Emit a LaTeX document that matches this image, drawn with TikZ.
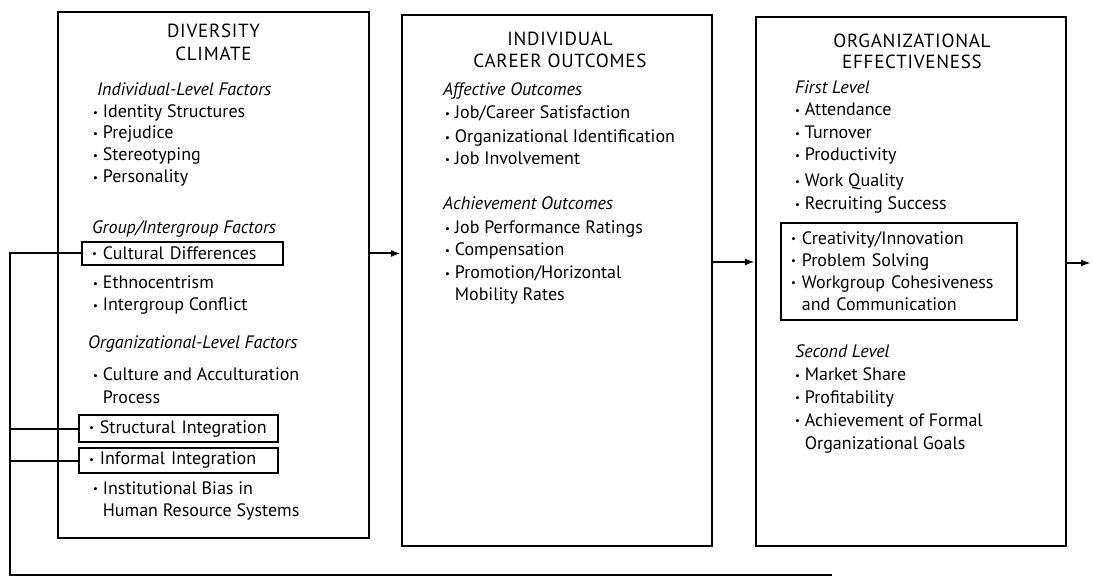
\documentclass[tikz,border=0pt]{standalone}
\usepackage{fontspec}
\setmainfont{PT Sans}
\usetikzlibrary{arrows.meta,positioning}
\newcommand{\itembullet}{\raisebox{0.2ex}{\scalebox{0.6}{\textbullet}}\ }
\tikzset{
  panel/.style = {draw, line width=2.2pt, inner sep=0pt},
  subpanel/.style = {draw, line width=2pt, inner xsep=10pt, inner ysep=0pt, align=left, font=\fontsize{18}{22}\selectfont},
  boxhead/.style = {font=\fontsize{19}{23}\selectfont\addfontfeature{LetterSpace=4}, anchor=base, inner sep=0pt},
  subhead/.style = {font=\fontsize{18}{22}\selectfont\itshape, anchor=base west, inner sep=0pt},
  item/.style = {font=\fontsize{18}{22}\selectfont, anchor=base west, inner sep=0pt},
  flow/.style = {-{Latex[length=10pt,width=7pt]}, line width=2pt},
  fbline/.style = {line width=2pt},
}
\begin{document}
\begin{tikzpicture}[x=1pt, y=-1pt]
\useasboundingbox (0,0) rectangle (1093,585);

% the three panels
\node[panel, minimum width=311pt, minimum height=526pt] (dc) at (213.5,275) {};
\node[panel, minimum width=310pt, minimum height=531pt] (ico) at (557,280.5) {};
\node[panel, minimum width=310pt, minimum height=529pt] (oe) at (911,281.5) {};

% Diversity climate
\node[boxhead] at (213.5,38) {DIVERSITY};
\node[boxhead] at (213.5,61) {CLIMATE};
\node[subhead] at (97,96) {Individual-Level Factors};
\foreach \y/\t in {118/Identity Structures, 139/Prejudice, 161/Stereotyping, 183/Personality}
  \node[item] at (93,\y) {\itembullet\t};
\node[subhead] at (92,234) {Group/Intergroup Factors};
\node[subpanel, text width=181pt, minimum height=23pt] (cd) at (182.5,253.5) {\itembullet Cultural Differences};
\node[item] at (93,289) {\itembullet Ethnocentrism};
\node[item] at (93,311) {\itembullet Intergroup Conflict};
\node[subhead] at (88,349) {Organizational-Level Factors};
\node[item] at (93,381) {\itembullet Culture and Acculturation};
\node[item] at (93,403) {\phantom{\itembullet}Process};
\node[subpanel, text width=179pt, minimum height=27pt] (si) at (178.5,428.5) {\itembullet Structural Integration};
\node[subpanel, text width=179pt, minimum height=25pt] (ii) at (178.5,460.5) {\itembullet Informal Integration};
\node[item] at (93,494) {\itembullet Institutional Bias in};
\node[item] at (93,516) {\phantom{\itembullet}Human Resource Systems};

% Individual career outcomes
\node[boxhead] at (560,46) {INDIVIDUAL};
\node[boxhead] at (560,68) {CAREER OUTCOMES};
\node[subhead] at (443,96) {Affective Outcomes};
\foreach \y/\t in {119/{Job/Career Satisfaction}, 143/Organizational Identification, 165/Job Involvement}
  \node[item] at (445,\y) {\itembullet\t};
\node[subhead] at (443,210) {Achievement Outcomes};
\foreach \y/\t in {234/Job Performance Ratings, 256/Compensation, 279/{Promotion/Horizontal}}
  \node[item] at (445,\y) {\itembullet\t};
\node[item] at (445,301) {\phantom{\itembullet}Mobility Rates};

% Organizational effectiveness
\node[boxhead] at (912,48) {ORGANIZATIONAL};
\node[boxhead] at (912,69) {EFFECTIVENESS};
\node[subhead] at (795,94) {First Level};
\foreach \y/\t in {116/Attendance, 139/Turnover, 161/Productivity, 187/Work Quality, 210/Recruiting Success}
  \node[item] at (795,\y) {\itembullet\t};
\node[subpanel, text width=216pt, minimum height=97pt] (ci) at (899,271.5)
  {\itembullet Creativity/Innovation\\ \itembullet Problem Solving\\ \itembullet Workgroup Cohesiveness\\ \phantom{\itembullet}and Communication};
\node[subhead] at (795,358) {Second Level};
\foreach \y/\t in {381/Market Share, 403/Profitability, 426/Achievement of Formal}
  \node[item] at (795,\y) {\itembullet\t};
\node[item] at (795,449) {\phantom{\itembullet}Organizational Goals};

% flow between panels
\coordinate (mid2) at (735,262);
\coordinate (out) at (1091,263);
\draw[flow] (dc.east |- cd.east) -- (ico.west |- cd.east);
\draw[flow] (ico.east |- mid2) -- (oe.west |- mid2);
\draw[flow] (oe.east |- out) -- (out);

% feedback loop
\coordinate (fbl) at (10,575);
\coordinate (fbr) at (832,575);
\draw[fbline] (cd.west) -- (cd.west -| fbl) -- (fbl) -- (fbr);
\draw[fbline] (si.west) -- (si.west -| fbl);
\draw[fbline] (ii.west) -- (ii.west -| fbl);

\end{tikzpicture}
\end{document}
